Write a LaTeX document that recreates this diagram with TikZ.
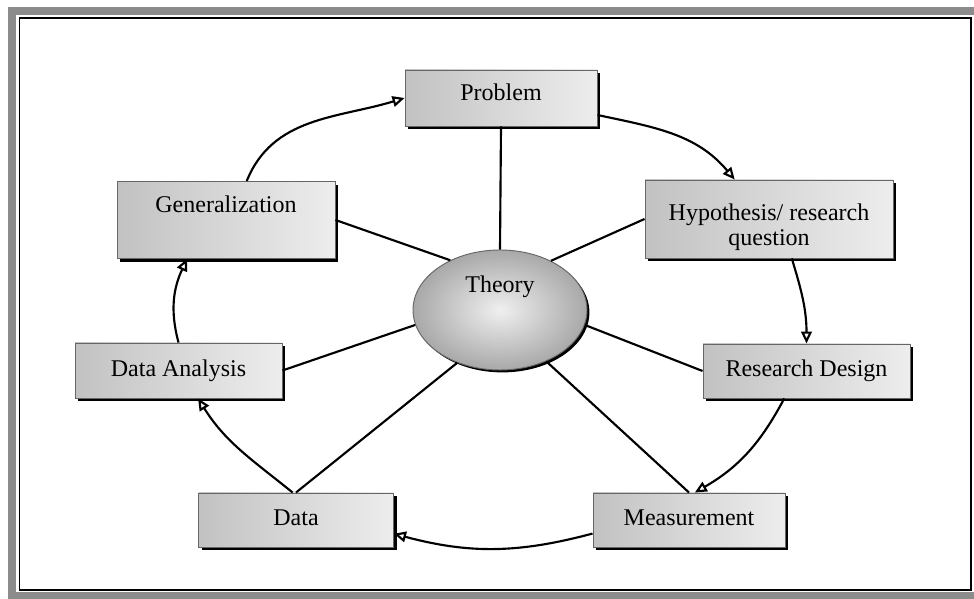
\documentclass[tikz,border=0pt]{standalone}
\usepackage{fontspec}
\setmainfont{Liberation Serif}
\usetikzlibrary{shadows,arrows.meta,calc,shapes.geometric}
\begin{document}
\begin{tikzpicture}[x=0.75pt,y=0.75pt,
  box/.style={rectangle, draw=black!60, line width=0.7pt,
    left color=black!24, right color=black!7,
    drop shadow={shadow xshift=2.3pt, shadow yshift=-2.3pt, fill=black, opacity=1},
    font=\fontsize{18}{21}\selectfont, inner sep=0pt,
    text height=12.5pt, text depth=3.5pt},
  theorystyle/.style={ellipse, draw=black!60, line width=0.7pt,
    inner color=black!6, outer color=black!34,
    drop shadow={shadow xshift=1.8pt, shadow yshift=-1.8pt, fill=black, opacity=1},
    font=\fontsize{18}{21}\selectfont, inner sep=0pt,
    minimum width=130.5pt, minimum height=90pt},
  conn/.style={line width=1.6pt, black},
  arr/.style={conn, -{Triangle[open, length=9pt, width=8pt, line width=1.6pt]}}
]
\useasboundingbox (0,0) rectangle (974,599);
\clip (0,0) rectangle (974,599);
% frame
\draw[black!45, line width=6pt] (12,3) rectangle (980,588);
\draw[black, line width=1.4pt] (19.5,9) rectangle (971,581);

% nodes
\node[theorystyle, text height=10pt, text depth=35.5pt] (theory) at (500,289) {Theory};
\node[box, minimum width=144pt, minimum height=42pt, text height=10pt, text depth=5.5pt] (problem) at (501,501) {Problem};
\node[box, minimum width=186pt, minimum height=58.5pt, text height=25pt, text depth=3.2pt] (hyp) at (769,380)
  {\fontsize{18}{18.75}\selectfont\begin{tabular}{@{}c@{}}Hypothesis/ research\\question\end{tabular}};
\node[box, minimum width=163.5pt, minimum height=57.75pt, text height=10pt, text depth=20.5pt] (gen) at (226,379) {Generalization};
\node[box, minimum width=155.25pt, minimum height=41.25pt] (da) at (178.5,228.5) {Data Analysis};
\node[box, minimum width=155.25pt, minimum height=40.5pt] (rd) at (806.5,228) {Research Design};
\node[box, minimum width=146.25pt, minimum height=40.5pt] (data) at (296,79) {Data};
\node[box, minimum width=144pt, minimum height=40.5pt] (meas) at (689,79) {Measurement};

% spokes
\draw[conn] (problem.south) -- (theory.north);
\draw[conn] (gen.east) -- (theory.135);
\draw[conn] (hyp.west) -- (theory.44);
\draw[conn] (da.east) -- (theory.190);
\draw[conn] (rd.west) -- (theory.350);
\draw[conn] (data.north) -- (theory.231);
\draw[conn] (meas.north) -- (theory.312);

% cycle arrows
\draw[arr] (gen.62) to[out=68, in=197] (problem.west);
\draw[arr] (problem.350) to[out=-12, in=130] (hyp.131);
\draw[arr] (hyp.300) to[out=-73, in=90] (rd.north);
\draw[arr] (rd.231) to[out=-118, in=30] (meas.78);
\draw[arr] (meas.188) to[out=195, in=-15] (data.352);
\draw[arr] (data.97) to[out=141, in=-58] (da.305);
\draw[arr] (da.north) to[out=105, in=-115] (gen.225);
\end{tikzpicture}
\end{document}
